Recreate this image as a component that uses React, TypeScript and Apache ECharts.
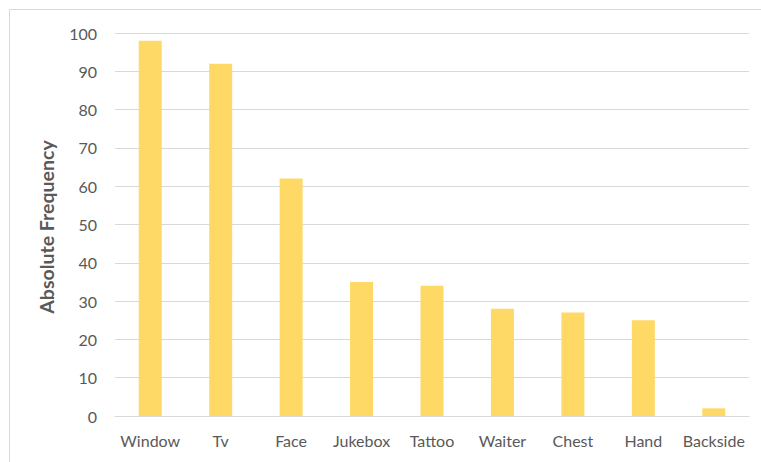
import React, { useEffect, useRef } from "react";
import * as echarts from "echarts";

const categories = ["Window", "Tv", "Face", "Jukebox", "Tattoo", "Waiter", "Chest", "Hand", "Backside"];
const values = [98, 92, 62, 35, 34, 28, 27, 25, 2];
const yTicks = { min: 0, max: 100, interval: 10 };

export default function App() {
  const ref = useRef<HTMLDivElement>(null);
  useEffect(() => {
    const chart = echarts.init(ref.current!, null, { renderer: "svg" });
    const font = "Lato, 'Open Sans', sans-serif";
    chart.setOption({
      animation: false,
      graphic: [
        {
          type: "rect",
          shape: { x: 9.5, y: 9.5, width: 800, height: 500 },
          style: { fill: "none", stroke: "#d9d9d9", lineWidth: 1 },
          silent: true,
        },
        {
          type: "text",
          x: 46,
          y: 227,
          rotation: Math.PI / 2,
          style: {
            text: "Absolute Frequency",
            fill: "#595959",
            font: `bold 19.5px ${font}`,
            align: "center",
            verticalAlign: "middle",
          },
        },
      ],
      grid: { left: 115, right: 12, top: 33, bottom: 46, containLabel: false },
      xAxis: {
        type: "category",
        data: categories,
        axisLine: { lineStyle: { color: "#d9d9d9", width: 1 } },
        axisTick: { show: false },
        axisLabel: { color: "#595959", fontSize: 16, fontFamily: font, margin: 16, interval: 0 },
      },
      yAxis: {
        type: "value",
        min: yTicks.min,
        max: yTicks.max,
        interval: yTicks.interval,
        axisLine: { show: false },
        axisTick: { show: false },
        splitLine: { lineStyle: { color: "#d9d9d9", width: 1 } },
        axisLabel: { color: "#595959", fontSize: 16, fontFamily: font, margin: 18 },
      },
      series: [
        {
          type: "bar",
          data: values,
          barWidth: 23,
          itemStyle: { color: "#ffd966" },
        },
      ],
    });
    return () => chart.dispose();
  }, []);
  return (
    <div
      ref={ref}
      style={{ position: "absolute", left: 0, top: 0, width: 761, height: 462, background: "#fff" }}
    />
  );
}
